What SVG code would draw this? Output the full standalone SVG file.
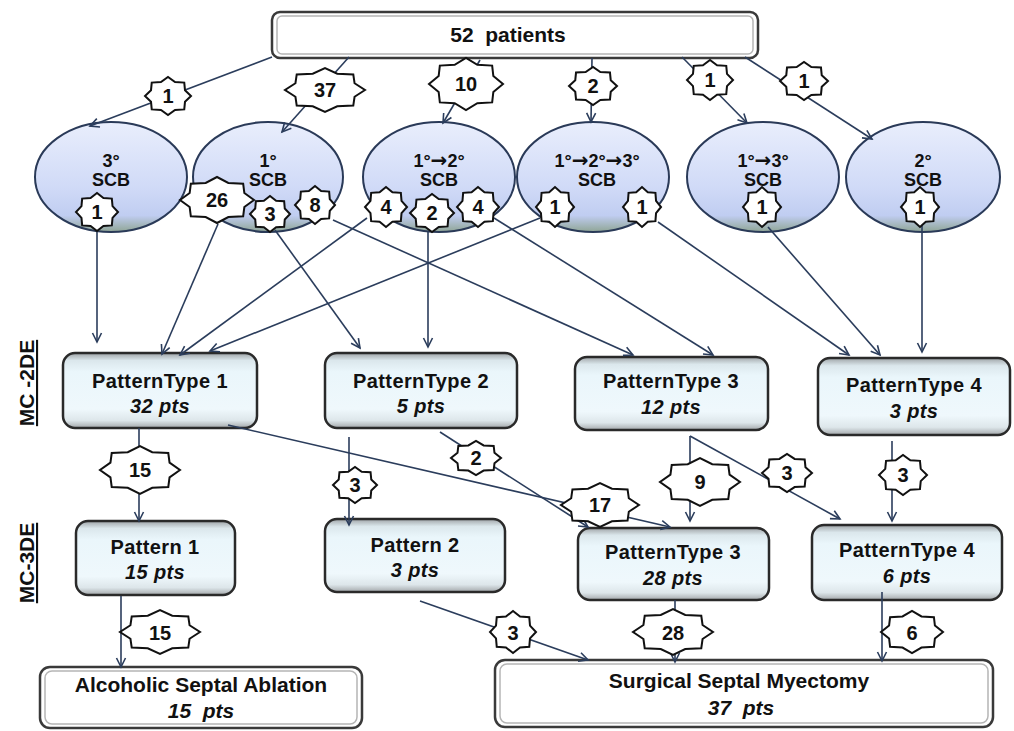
<svg xmlns="http://www.w3.org/2000/svg" xmlns:xlink="http://www.w3.org/1999/xlink" width="1014" height="731" viewBox="0 0 1014 731">
<style>
.ell{fill:url(#ellGrad);stroke:#2a3a58;stroke-width:2}
.box{fill:url(#boxGrad);stroke:#2a2a2a;stroke-width:2.5}
.outer{fill:#fff;stroke:#3a3a3a;stroke-width:2.5}
.inner{fill:none;stroke:#b5b5b5;stroke-width:1.5}
.t{font-family:"Liberation Sans",Arial,sans-serif;font-weight:bold;fill:#111;text-anchor:middle}
.ar{font-family:"DejaVu Sans",sans-serif;font-size:20px;font-weight:bold}
.nt{font-size:20px;letter-spacing:0.4px}
.et{font-size:18px}
.it{font-style:italic}
.sl{font-size:20px}
.side{font-family:"Liberation Sans",Arial,sans-serif;font-weight:bold;font-size:21px;fill:#111;text-anchor:middle;text-decoration:underline}
.con{fill:none;stroke:#2b3d5c;stroke-width:1.6;marker-end:url(#arr)}
.st{fill:#fff;stroke:#111;stroke-width:2}
</style>
<defs>
<linearGradient id="ellGrad" x1="0" y1="0" x2="0" y2="1">
<stop offset="0" stop-color="#e9eefc"/>
<stop offset="0.6" stop-color="#d0daf7"/>
<stop offset="0.85" stop-color="#c0cdf1"/>
<stop offset="1" stop-color="#8fa595"/>
</linearGradient>
<linearGradient id="boxGrad" x1="0" y1="0" x2="0" y2="1">
<stop offset="0" stop-color="#9ea3a6"/>
<stop offset="0.1" stop-color="#dbe7ec"/>
<stop offset="0.25" stop-color="#eaf6fb"/>
<stop offset="0.75" stop-color="#eff8fc"/>
<stop offset="0.9" stop-color="#dde6ea"/>
<stop offset="1" stop-color="#a3a7aa"/>
</linearGradient>
<marker id="arr" markerUnits="userSpaceOnUse" markerWidth="14" markerHeight="14" viewBox="-10 -7 12 14" refX="0" refY="0" orient="auto">
<path d="M-9,-4.5 L0,0 L-9,4.5" fill="none" stroke="#2b3d5c" stroke-width="1.6"/>
</marker>
<path id="star" vector-effect="non-scaling-stroke" d="M1,0 L0.739,0.306 L0.707,0.707 L0.306,0.739 L0,1 L-0.306,0.739 L-0.707,0.707 L-0.739,0.306 L-1,0 L-0.739,-0.306 L-0.707,-0.707 L-0.306,-0.739 L0,-1 L0.306,-0.739 L0.707,-0.707 L0.739,-0.306 Z"/>
</defs>
<rect width="1014" height="731" fill="#fff"/>

<g id="side-labels">
<text class="side" transform="translate(34,383) rotate(-90)">MC -2DE</text>
<text class="side" transform="translate(34,563) rotate(-90)">MC-3DE</text>
</g>

<g id="n-patients">
<rect class="outer" x="272" y="12" width="486" height="46" rx="8"/>
<rect class="inner" x="277" y="16" width="476" height="38" rx="5"/>
<text class="t" x="508" y="42" font-size="21" xml:space="preserve">52  patients</text>
</g>

<g id="n-scb3">
<ellipse class="ell" cx="111" cy="177" rx="76" ry="55"/>
<text class="t et" x="111" y="167">3°</text><text class="t et" x="111" y="186">SCB</text>
</g>
<g id="n-scb1">
<ellipse class="ell" cx="268" cy="177" rx="75" ry="55"/>
<text class="t et" x="268" y="167">1°</text><text class="t et" x="268" y="186">SCB</text>
</g>
<g id="n-scb12">
<ellipse class="ell" cx="439" cy="177" rx="76" ry="55"/>
<text class="t et" x="439" y="167">1°<tspan class="ar">→</tspan>2°</text><text class="t et" x="439" y="186">SCB</text>
</g>
<g id="n-scb123">
<ellipse class="ell" cx="593" cy="177" rx="76" ry="55"/>
<text class="t et" x="597" y="167">1°<tspan class="ar">→</tspan>2°<tspan class="ar">→</tspan>3°</text><text class="t et" x="597" y="186">SCB</text>
</g>
<g id="n-scb13">
<ellipse class="ell" cx="763" cy="177" rx="76" ry="55"/>
<text class="t et" x="763" y="167">1°<tspan class="ar">→</tspan>3°</text><text class="t et" x="763" y="186">SCB</text>
</g>
<g id="n-scb2">
<ellipse class="ell" cx="923" cy="177" rx="77" ry="55"/>
<text class="t et" x="923" y="167">2°</text><text class="t et" x="923" y="186">SCB</text>
</g>

<g id="n-pt1-2de">
<rect class="box" x="63" y="353" width="194" height="75" rx="12"/>
<text class="t nt" x="160" y="388">PatternType 1</text><text class="t nt it" x="160" y="413">32 pts</text>
</g>
<g id="n-pt2-2de">
<rect class="box" x="325" y="353" width="192" height="75" rx="12"/>
<text class="t nt" x="421" y="388">PatternType 2</text><text class="t nt it" x="421" y="413">5 pts</text>
</g>
<g id="n-pt3-2de">
<rect class="box" x="575" y="357" width="193" height="73" rx="12"/>
<text class="t nt" x="671" y="388">PatternType 3</text><text class="t nt it" x="671" y="414">12 pts</text>
</g>
<g id="n-pt4-2de">
<rect class="box" x="818" y="358" width="192" height="77" rx="12"/>
<text class="t nt" x="914" y="392">PatternType 4</text><text class="t nt it" x="914" y="418">3 pts</text>
</g>

<g id="n-p1-3de">
<rect class="box" x="76" y="521" width="159" height="74" rx="12"/>
<text class="t nt" x="155" y="554">Pattern 1</text><text class="t nt it" x="155" y="579">15 pts</text>
</g>
<g id="n-p2-3de">
<rect class="box" x="325" y="519" width="180" height="73" rx="12"/>
<text class="t nt" x="415" y="552">Pattern 2</text><text class="t nt it" x="415" y="577">3 pts</text>
</g>
<g id="n-pt3-3de">
<rect class="box" x="578" y="528" width="191" height="72" rx="12"/>
<text class="t nt" x="673" y="559">PatternType 3</text><text class="t nt it" x="673" y="585">28 pts</text>
</g>
<g id="n-pt4-3de">
<rect class="box" x="812" y="525" width="190" height="75" rx="12"/>
<text class="t nt" x="907" y="557">PatternType 4</text><text class="t nt it" x="907" y="583">6 pts</text>
</g>

<g id="n-asa">
<rect class="outer" x="40" y="667" width="322" height="61" rx="10"/>
<rect class="inner" x="45" y="671" width="312" height="53" rx="7"/>
<text class="t" x="201" y="692" font-size="21">Alcoholic Septal Ablation</text>
<text class="t it" x="201" y="718" font-size="21" xml:space="preserve">15  pts</text>
</g>
<g id="n-ssm">
<rect class="outer" x="495" y="660" width="498" height="67" rx="10"/>
<rect class="inner" x="500" y="664" width="488" height="59" rx="7"/>
<text class="t" x="739" y="688" font-size="21">Surgical Septal Myectomy</text>
<text class="t it" x="741" y="715" font-size="21" xml:space="preserve">37  pts</text>
</g>

<g id="connectors">
<path class="con" d="M272,57 L90,126"/>
<path class="con" d="M349,57 L282,132"/>
<path class="con" d="M480,60 L443,123"/>
<path class="con" d="M592,58 L591,122"/>
<path class="con" d="M682,57 L747,123"/>
<path class="con" d="M745,57 L872,139"/>

<path class="con" d="M97,230 L97,342"/>
<path class="con" d="M218,224 L162,354"/>
<path class="con" d="M275,230 L360,348"/>
<path class="con" d="M333,220 L633,355"/>
<path class="con" d="M367,218 L180,355"/>
<path class="con" d="M428,232 L428,347"/>
<path class="con" d="M494,218 L713,355"/>
<path class="con" d="M540,218 L210,351"/>
<path class="con" d="M658,222 L849,355"/>
<path class="con" d="M768,227 L880,355"/>
<path class="con" d="M922,225 L922,352"/>

<path class="con" d="M139,428 L139,521"/>
<path class="con" d="M349,437 L349,525"/>
<path class="con" d="M228,425 L670,527"/>
<path class="con" d="M440,432 L588,527"/>
<path class="con" d="M690,436 L690,521"/>
<path class="con" d="M690,436 L840,519"/>
<path class="con" d="M892,441 L892,521"/>

<path class="con" d="M121,596 L121,667"/>
<path class="con" d="M420,601 L588,660"/>
<path class="con" d="M675,600 L675,662"/>
<path class="con" d="M882,592 L882,661"/>

<g id="labels">
<use class="st" xlink:href="#star" href="#star" transform="translate(168,96) scale(23,19)"/><text class="t sl" x="168" y="103">1</text>
<use class="st" xlink:href="#star" href="#star" transform="translate(325,90) scale(40,22)"/><text class="t sl" x="325" y="97">37</text>
<use class="st" xlink:href="#star" href="#star" transform="translate(466,84) scale(37,26)"/><text class="t sl" x="466" y="91">10</text>
<use class="st" xlink:href="#star" href="#star" transform="translate(593,86) scale(24,19)"/><text class="t sl" x="593" y="93">2</text>
<use class="st" xlink:href="#star" href="#star" transform="translate(710,80) scale(23,20)"/><text class="t sl" x="710" y="87">1</text>
<use class="st" xlink:href="#star" href="#star" transform="translate(804,81) scale(24,19)"/><text class="t sl" x="804" y="88">1</text>

<use class="st" xlink:href="#star" href="#star" transform="translate(97,212) scale(21,19)"/><text class="t sl" x="97" y="219">1</text>
<use class="st" xlink:href="#star" href="#star" transform="translate(217,200) scale(37,23)"/><text class="t sl" x="217" y="207">26</text>
<use class="st" xlink:href="#star" href="#star" transform="translate(270,214) scale(20,18)"/><text class="t sl" x="270" y="221">3</text>
<use class="st" xlink:href="#star" href="#star" transform="translate(315,205) scale(20,19)"/><text class="t sl" x="315" y="212">8</text>
<use class="st" xlink:href="#star" href="#star" transform="translate(386,207) scale(21,20)"/><text class="t sl" x="386" y="214">4</text>
<use class="st" xlink:href="#star" href="#star" transform="translate(432,213) scale(22,19)"/><text class="t sl" x="432" y="220">2</text>
<use class="st" xlink:href="#star" href="#star" transform="translate(478,207) scale(21,20)"/><text class="t sl" x="478" y="214">4</text>
<use class="st" xlink:href="#star" href="#star" transform="translate(555,207) scale(19,20)"/><text class="t sl" x="555" y="214">1</text>
<use class="st" xlink:href="#star" href="#star" transform="translate(642,207) scale(19,20)"/><text class="t sl" x="642" y="214">1</text>
<use class="st" xlink:href="#star" href="#star" transform="translate(762,207) scale(19,20)"/><text class="t sl" x="762" y="214">1</text>
<use class="st" xlink:href="#star" href="#star" transform="translate(920,207) scale(19,20)"/><text class="t sl" x="920" y="214">1</text>

<use class="st" xlink:href="#star" href="#star" transform="translate(140,470) scale(40,24)"/><text class="t sl" x="140" y="477">15</text>
<use class="st" xlink:href="#star" href="#star" transform="translate(355,485) scale(22,18)"/><text class="t sl" x="355" y="492">3</text>
<use class="st" xlink:href="#star" href="#star" transform="translate(476,458) scale(25,17)"/><text class="t sl" x="476" y="465">2</text>
<use class="st" xlink:href="#star" href="#star" transform="translate(600,505) scale(39,22)"/><text class="t sl" x="600" y="512">17</text>
<use class="st" xlink:href="#star" href="#star" transform="translate(700,482) scale(40,24)"/><text class="t sl" x="700" y="489">9</text>
<use class="st" xlink:href="#star" href="#star" transform="translate(787,473) scale(25,19)"/><text class="t sl" x="787" y="480">3</text>
<use class="st" xlink:href="#star" href="#star" transform="translate(903,475) scale(24,20)"/><text class="t sl" x="903" y="482">3</text>

<use class="st" xlink:href="#star" href="#star" transform="translate(160,632) scale(40,22)"/><text class="t sl" x="160" y="640" font-size="22">15</text>
<use class="st" xlink:href="#star" href="#star" transform="translate(513,632) scale(23,21)"/><text class="t sl" x="513" y="640" font-size="22">3</text>
<use class="st" xlink:href="#star" href="#star" transform="translate(673,632) scale(40,23)"/><text class="t sl" x="673" y="640" font-size="22">28</text>
<use class="st" xlink:href="#star" href="#star" transform="translate(912,632) scale(31,21)"/><text class="t sl" x="912" y="640" font-size="22">6</text>
</g>
</g>
</svg>
